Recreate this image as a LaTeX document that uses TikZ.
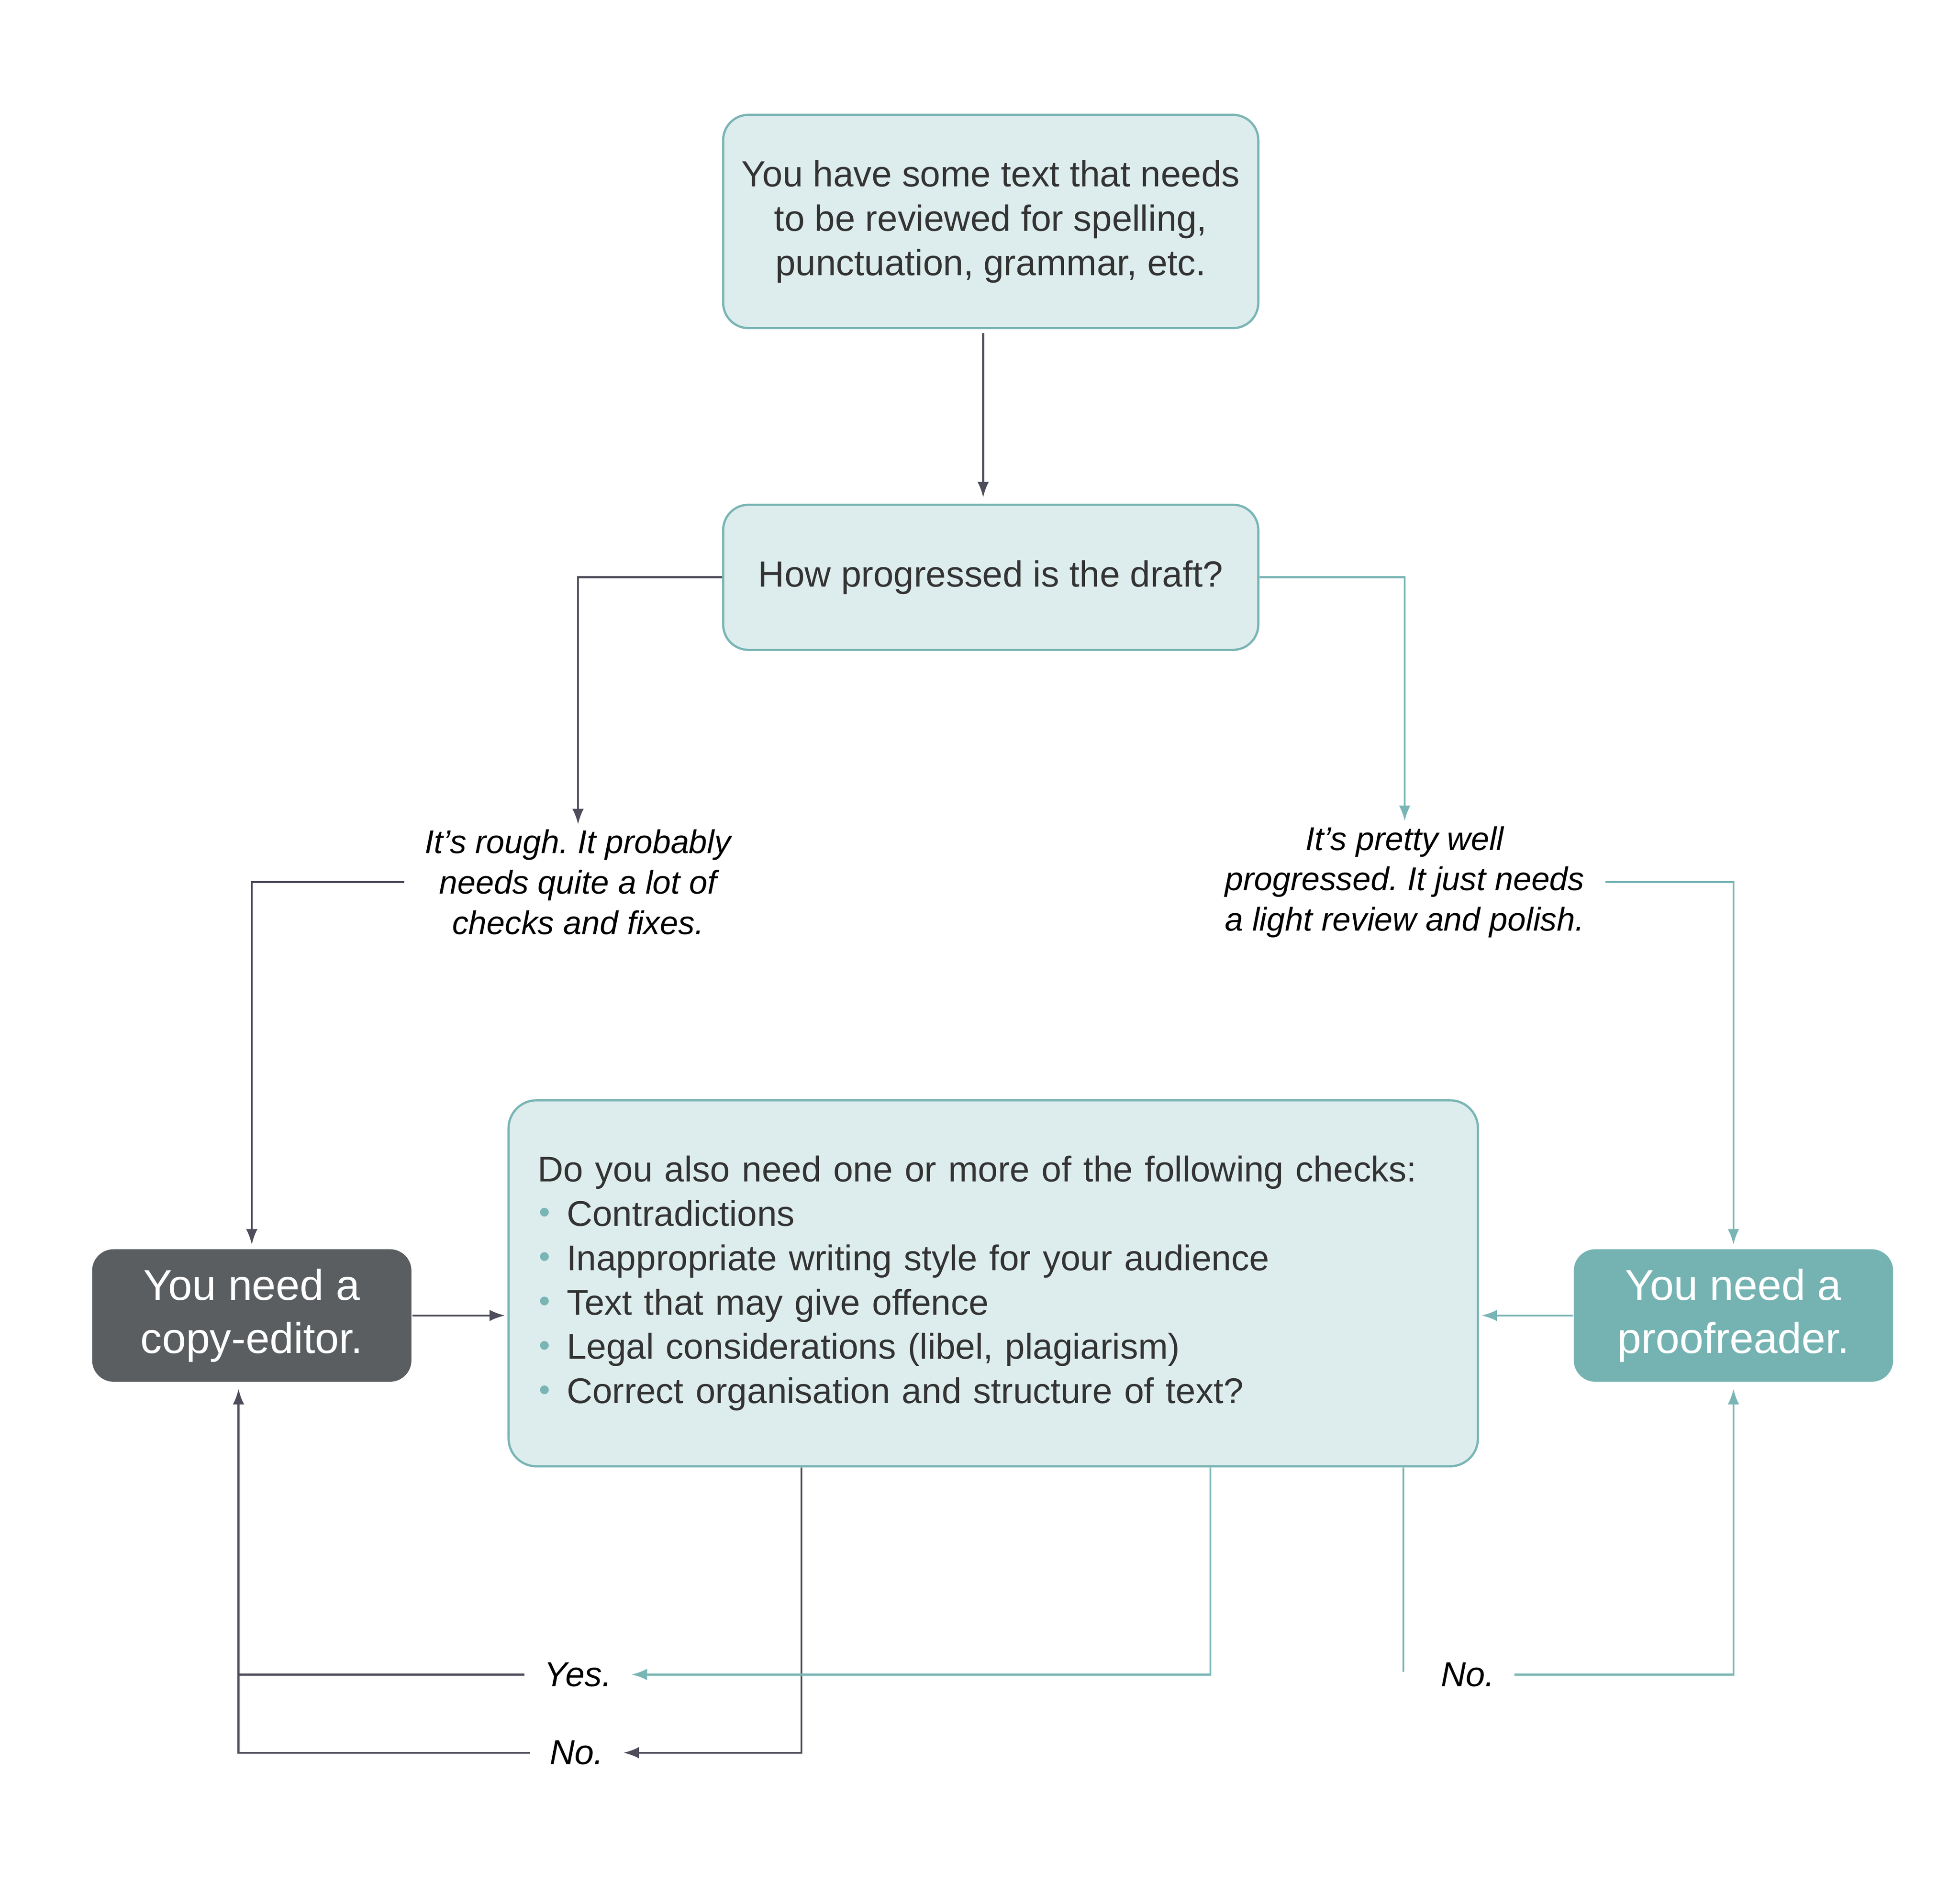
\documentclass[tikz,border=0pt]{standalone}
\usepackage{fontspec}
\setmainfont{Liberation Sans}
\usetikzlibrary{arrows.meta}
\definecolor{boxfill}{HTML}{DDECEC}
\definecolor{boxline}{HTML}{7AB5B5}
\definecolor{darkline}{HTML}{4D4D5B}
\definecolor{cefill}{HTML}{5A5E61}
\definecolor{pffill}{HTML}{75B3B3}
\definecolor{boxtext}{HTML}{333333}
\newcommand{\bul}{\makebox[0.23cm][l]{\hspace{0.01cm}\textcolor{boxline}{\raisebox{0.15ex}{\scalebox{0.9}{•}}}}}
\frenchspacing

\begin{document}
\begin{tikzpicture}[>={Latex[length=3.5pt,width=2.6pt]},
  box/.style={draw=boxline,fill=boxfill,line width=0.5pt,rounded corners=0.2cm,text=boxtext,font=\fontsize{8.2}{10}\selectfont,align=center},
  res/.style={rounded corners=0.17cm,text=white,font=\fontsize{9.7}{12}\selectfont,align=center,minimum width=2.53cm,minimum height=1.05cm},
  lbl/.style={font=\fontsize{7.4}{9.1}\selectfont\itshape,align=center,inner xsep=0.16cm,inner ysep=1pt},
  ans/.style={font=\fontsize{7.8}{9}\selectfont\itshape,inner xsep=0.15cm,inner ysep=1pt},
  dk/.style={draw=darkline,line width=0.45pt},
  tl/.style={draw=boxline,line width=0.45pt}]
\useasboundingbox (0,0) rectangle (15.53,-15);
\node[box,minimum width=4.24cm,minimum height=1.69cm] (q0) at (7.85,-1.755) {You have some text that needs\\to be reviewed for spelling,\\punctuation, grammar, etc.};
\node[box,minimum width=4.24cm,minimum height=1.15cm] (q1) at (7.85,-4.575) {How progressed is the draft?};
%
\node[lbl] (r1) at (4.58,-6.99) {It’s rough. It probably\\needs quite a lot of\\checks and fixes.};
\node[lbl] (r2) at (11.13,-6.99) {It’s pretty well\\progressed. It just needs\\a light review and polish.};
%
\node[box,align=left,text width=7.22cm,inner xsep=0.23cm,minimum height=2.9cm,rounded corners=0.22cm,font=\fontsize{8.05}{10}\selectfont] (ck) at (7.87,-10.17) {Do you also need one or more of the following checks:\\
\bul Contradictions\\
\bul Inappropriate writing style for your audience\\
\bul Text that may give offence\\
\bul Legal considerations (libel, plagiarism)\\
\bul Correct organisation and structure of text?};
\node[res,fill=cefill] (ce) at (1.995,-10.425) {You need a\\copy-editor.};
\node[res,fill=pffill] (pf) at (13.735,-10.425) {You need a\\proofreader.};
%
\node[ans] (y1) at (4.58,-13.27) {Yes.};
\node[ans] (n1) at (4.57,-13.89) {No.};
\node[ans] (n2) at (11.63,-13.27) {No.};
\coordinate (j1) at (1.89,-13.89);
\coordinate (e1) at (11.12,-13.25);
%
\draw[dk,->,shorten <=0.03cm,shorten >=0.05cm] ([xshift=-0.06cm]q0.south) -- ([xshift=-0.06cm]q1.north);
\draw[dk,->] (q1.west) -| (r1.north);
\draw[tl,->] (q1.east) -| (r2.north);
\draw[dk,->,shorten >=0.03cm] (r1.west) -| (ce.north);
\draw[tl,->,shorten >=0.03cm] (r2.east) -| (pf.north);
\draw[dk,->,shorten >=0.02cm] (ce.east) -- (ce.east -| ck.west);
\draw[tl,->,shorten >=0.02cm] (pf.west) -- (pf.west -| ck.east);
\draw[dk,->] ([xshift=-1.52cm]ck.south) |- (n1.east);
\draw[tl,->] ([xshift=1.72cm]ck.south) |- (y1.east);
\draw[tl] (ck.south -| e1) -- (e1);
\draw[tl,->,shorten >=0.05cm] (n2.east) -| (pf.south);
\draw[dk,->,shorten >=0.05cm] (n1.west) -- (j1) -- (j1 |- ce.south);
\draw[dk] (y1.west) -- (y1.west -| j1);
\end{tikzpicture}
\end{document}
